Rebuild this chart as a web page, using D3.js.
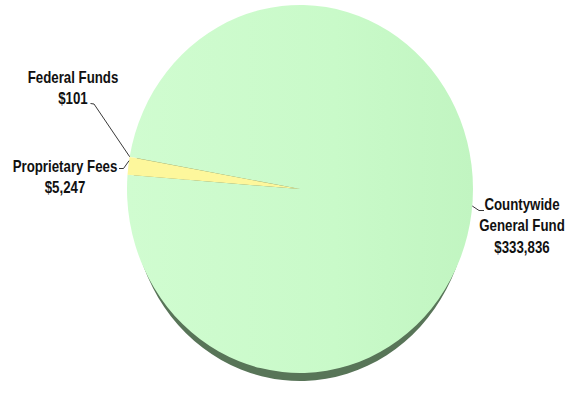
<!DOCTYPE html>
<html>
<head>
<meta charset="utf-8">
<script src="https://cdn.jsdelivr.net/npm/d3@7"></script>
<style>
  html, body { margin: 0; padding: 0; background: #fff; }
  .lbl { font-family: "Liberation Sans Narrow", "Arial Narrow", "Liberation Sans", Arial, sans-serif; font-weight: bold; font-size: 16px; fill: #111; }
</style>
</head>
<body>
<div id="chart"></div>
<script>
// Fontes de receita (em milhares)
const categories = ['Countywide General Fund', 'Proprietary Fees', 'Federal Funds'];
const values = [333836, 5247, 101];
const labelLines = [
  ['Countywide', 'General Fund', '$333,836'],
  ['Proprietary Fees', '$5,247'],
  ['Federal Funds', '$101']
];

const W = 574, H = 395;
const cx = 300, cy = 189;
const rx = 173, ry = 184;
const depth = 12;

const svg = d3.select('#chart').append('svg')
  .attr('width', W).attr('height', H);

const defs = svg.append('defs');
const g1 = defs.append('linearGradient').attr('id', 'faceGreen')
  .attr('x1', '0%').attr('x2', '100%').attr('y1', '0%').attr('y2', '0%');
g1.append('stop').attr('offset', '0%').attr('stop-color', '#d0fcd0');
g1.append('stop').attr('offset', '60%').attr('stop-color', '#c9fac9');
g1.append('stop').attr('offset', '100%').attr('stop-color', '#c1f5c1');
const blur = defs.append('filter').attr('id', 'soft');
blur.append('feGaussianBlur').attr('stdDeviation', 0.7);

const faceColors = ['url(#faceGreen)', '#fdf79c', '#fdf79c'];
const sideColors = ['#587458', '#8a8a50', '#8a8a50'];

const pie = d3.pie().sort(null)
  .startAngle(-79.9 * Math.PI / 180)
  .endAngle((360 - 79.9) * Math.PI / 180);
const arcs = pie(values);
const arc = d3.arc().innerRadius(0).outerRadius(rx);
const sideArc = d3.arc().innerRadius(0).outerRadius(rx - 5);

// Lado (profundidade)
svg.append('g')
  .attr('transform', `translate(${cx},${cy + depth}) scale(1,${(ry - 4) / (rx - 5)})`)
  .attr('filter', 'url(#soft)')
  .selectAll('path')
  .data(arcs)
  .enter().append('path')
  .attr('d', sideArc)
  .attr('fill', (d, i) => sideColors[i]);

// Face superior
svg.append('g')
  .attr('transform', `translate(${cx},${cy}) scale(1,${ry / rx})`)
  .selectAll('path')
  .data(arcs)
  .enter().append('path')
  .attr('d', arc)
  .attr('fill', (d, i) => faceColors[i]);

// Rótulos (fonte condensada via escala horizontal)
const labelPos = [
  { x: 522, y: 210 },
  { x: 65, y: 172 },
  { x: 73, y: 83 }
];
const lineH = 21.5;
labelLines.forEach((lines, i) => {
  const t = svg.append('text').attr('class', 'lbl')
    .attr('text-anchor', 'middle')
    .attr('transform', `translate(${labelPos[i].x},${labelPos[i].y}) scale(0.83,1)`);
  lines.forEach((s, j) => {
    t.append('tspan').attr('x', 0).attr('y', j * lineH).text(s);
  });
});

// Linhas de chamada: do rótulo até a borda da fatia
function edgePoint(a) {
  return [cx + rx * Math.sin(a), cy - ry * Math.cos(a)];
}
const leaders = [
  { from: [[484, 210.5], [479, 210.5]], angle: 95.3 * Math.PI / 180 },
  { from: [[119, 168.5], [123.5, 168.5]], angle: arcs[1].endAngle - 0.02 },
  { from: [[90.5, 103.5], [94, 104]], angle: arcs[2].endAngle }
];
leaders.forEach(l => {
  const pts = l.from.concat([edgePoint(l.angle)]);
  svg.append('path')
    .attr('d', d3.line()(pts))
    .attr('fill', 'none')
    .attr('stroke', '#222')
    .attr('stroke-width', 0.9);
});
</script>
</body>
</html>
